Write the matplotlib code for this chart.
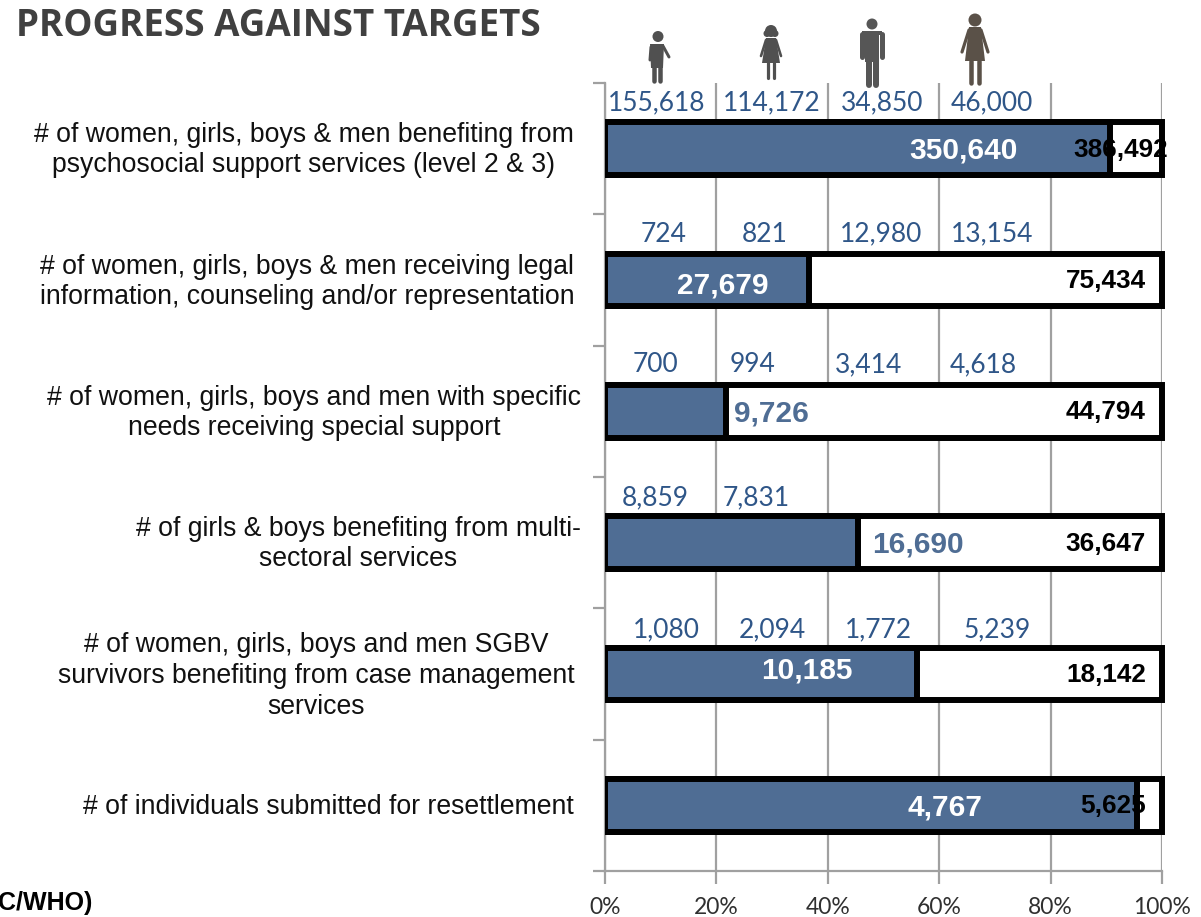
import matplotlib
matplotlib.use("Agg")
import matplotlib.pyplot as plt
from matplotlib.patches import Circle, Polygon
from matplotlib.transforms import Bbox, TransformedBbox

categories = ["# of women, girls, boys & men benefiting from\npsychosocial support services (level 2 & 3)",
              "# of women, girls, boys & men receiving legal\ninformation, counseling and/or representation",
              "# of women, girls, boys and men with specific\nneeds receiving special support",
              "# of girls & boys benefiting from multi-\nsectoral services",
              "# of women, girls, boys and men SGBV\nsurvivors benefiting from case management\nservices",
              "# of individuals submitted for resettlement"]
progress_pct = [90.7, 36.7, 21.7, 45.5, 56.1, 95.5]
achieved = ["350,640", "27,679", "9,726", "16,690", "10,185", "4,767"]
targets = ["386,492", "75,434", "44,794", "36,647", "18,142", "5,625"]
breakdown = [["155,618", "114,172", "34,850", "46,000"],
             ["724", "821", "12,980", "13,154"],
             ["700", "994", "3,414", "4,618"],
             ["8,859", "7,831"],
             ["1,080", "2,094", "1,772", "5,239"],
             []]

# label positions, in percent of the axis
breakdown_x = [[9.2, 29.9, 49.7, 69.4],
               [10.6, 28.6, 49.6, 69.5],
               [9, 26.5, 47.4, 68],
               [9, 27.1],
               [11, 30, 49.1, 70.5],
               []]
breakdown_dy = [2, 2, 1, 3, 4, 0]
achieved_x = [64.3, 21.2, 29.8, 56.2, 36.3, 61]
achieved_dy = [2, 5, 2, 2, -3, 2]
achieved_col = ["white", "white", "#4f6d94", "#4f6d94", "white", "white"]
target_x = [101.1, 97.1, 97.1, 97.1, 97.1, 97.1]

BLUE = "#4f6d94"
GREY = "#a0a0a0"
LABEL_FONT = ["Lato", "DejaVu Sans"]
SANS = ["Liberation Sans", "DejaVu Sans"]

W, H = 1201, 917
fig = plt.figure(figsize=(W / 100, H / 100), dpi=100)
ax = fig.add_axes([605 / W, 1 - 871 / H, (1162 - 605) / W, (871 - 83) / H])
n = len(categories)
ax.set_xlim(0, 100)
ax.set_ylim(n, 0)
ax.set_axisbelow(True)
ax.xaxis.grid(True, color=GREY, lw=1.6)
ax.set_xticks(range(0, 101, 20))
ax.set_xticklabels([f"{v}%" for v in range(0, 101, 20)], fontsize=16.5, family=LABEL_FONT, color="#303030")
ax.set_yticks(range(n + 1))
ax.set_yticklabels([])
ax.tick_params(axis="both", length=9, width=1.6, color=GREY)
ax.tick_params(axis="x", pad=10)
for s in ["top", "right"]:
    ax.spines[s].set_visible(False)
for s in ["left", "bottom"]:
    ax.spines[s].set_color(GREY)
    ax.spines[s].set_linewidth(1.6)

clip = TransformedBbox(Bbox([[0, 0], [1.02, 1]]), ax.transAxes)
for i in range(n):
    yc = i + 0.5
    for w, col in [(100, "white"), (progress_pct[i], BLUE)]:
        b = ax.barh(yc, w, height=0.4, color=col, edgecolor="black", lw=4.3, zorder=3)[0]
        b.set_clip_box(clip)
    ax.text(achieved_x[i], yc + achieved_dy[i] / 131, achieved[i], color=achieved_col[i], fontsize=21.5,
            fontweight="bold", family=SANS, ha="center", va="center", zorder=5)
    ax.text(target_x[i], yc + 1 / 131, targets[i], color="black", fontsize=18.8, fontweight="bold",
            family=SANS, ha="right", va="center", zorder=5)
    for txt, x in zip(breakdown[i], breakdown_x[i]):
        ax.text(x, i + 0.135 + breakdown_dy[i] / 131, txt, color="#2f5688", fontsize=19, family=LABEL_FONT,
                ha="center", va="center", zorder=5)

# overlay in pixel coordinates for title, category text and icons
ov = fig.add_axes([0, 0, 1, 1], facecolor="none")
ov.set_xlim(0, W)
ov.set_ylim(H, 0)
ov.axis("off")

ov.text(16, 26, "PROGRESS AGAINST TARGETS", fontsize=26.5, fontweight="bold", family=["Open Sans", "DejaVu Sans"],
        color="#404040", ha="left", va="center")
ov.text(-2, 903, "C/WHO)", fontsize=18, fontweight="bold", family=SANS, color="black", ha="left", va="center")

cat_center = [303.5, 307, 314, 358, 316, 328.5]
cat_y = [150, 282, 413, 544, 676, 807]
for txt, cx, y in zip(categories, cat_center, cat_y):
    ov.text(cx, y, txt, fontsize=19.2, family=SANS, color="#111111", ha="center", va="center", linespacing=1.23)


def limb(x0, y0, x1, y1, width, col):
    ov.plot([x0, x1], [y0, y1], color=col, lw=width * 0.72, solid_capstyle="round")


def head(x, y, r, col):
    ov.add_patch(Circle((x, y), r, color=col, lw=0))


def shape(pts, col):
    ov.add_patch(Polygon(pts, color=col, lw=0))


def boy(x, top, col):
    head(x, top + 5.5, 5.5, col)
    shape([(x - 8, top + 13), (x + 6, top + 13), (x + 5, top + 37), (x - 7, top + 37)], col)
    limb(x - 7, top + 16, x - 8, top + 29, 3, col)
    limb(x + 5, top + 15, x + 11, top + 26, 3, col)
    limb(x - 4, top + 36, x - 4, top + 50, 4.5, col)
    limb(x + 2, top + 36, x + 2, top + 50, 4.5, col)


def girl(x, top, col):
    head(x, top + 6, 6, col)
    head(x - 4, top + 8.5, 3.5, col)
    head(x + 4, top + 8.5, 3.5, col)
    shape([(x - 5, top + 13), (x + 5, top + 13), (x + 9, top + 38), (x - 9, top + 38)], col)
    limb(x - 5, top + 15, x - 10, top + 31, 2.6, col)
    limb(x + 5, top + 15, x + 10, top + 31, 2.6, col)
    limb(x - 3, top + 38, x - 3, top + 53, 3.2, col)
    limb(x + 3, top + 38, x + 3, top + 53, 3.2, col)


def man(x, top, col):
    head(x, top + 6, 5.5, col)
    shape([(x - 7, top + 13), (x + 7, top + 13), (x + 7, top + 44), (x - 7, top + 44)], col)
    limb(x - 10, top + 16, x - 10, top + 39, 5, col)
    limb(x + 10, top + 16, x + 10, top + 39, 5, col)
    shape([(x - 10, top + 13), (x + 10, top + 13), (x + 10, top + 17), (x - 10, top + 17)], col)
    limb(x - 3.5, top + 42, x - 3.5, top + 67, 6, col)
    limb(x + 3.5, top + 42, x + 3.5, top + 67, 6, col)


def woman(x, top, col):
    head(x, top + 7, 6.5, col)
    shape([(x - 6, top + 14), (x + 6, top + 14), (x + 10, top + 48), (x - 10, top + 48)], col)
    limb(x - 6, top + 17, x - 13, top + 39, 3.2, col)
    limb(x + 6, top + 17, x + 13, top + 39, 3.2, col)
    limb(x - 4, top + 48, x - 4, top + 70, 4.5, col)
    limb(x + 4, top + 48, x + 4, top + 70, 4.5, col)


boy(658, 31, "#505050")
girl(771, 25, "#505050")
man(872, 18, "#565656")
woman(975, 13, "#5a5148")
ov.set_xlim(0, W)
ov.set_ylim(H, 0)

fig.savefig("out.png", dpi=100, facecolor="white")
